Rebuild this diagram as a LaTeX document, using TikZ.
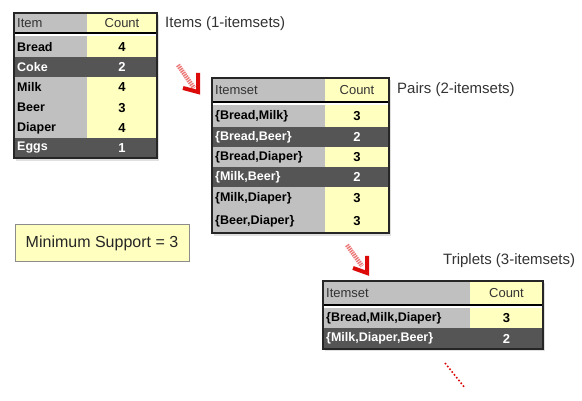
\documentclass[tikz,border=0pt]{standalone}
\usepackage{fontspec}
\setmainfont{Liberation Sans}
\definecolor{cgray}{HTML}{C0C0C0}
\definecolor{cyel}{HTML}{FFFFC0}
\definecolor{cdark}{HTML}{555555}
\definecolor{ctext}{HTML}{333333}
\definecolor{cred}{HTML}{DD0A0A}
\newcommand\fs[1]{\fontsize{#1}{#1}\selectfont}
% row: name, x1, xdiv, x2, ytop, ybot, text, count, dark
\newcommand\trow[9]{%
  \ifnum#9=1
    \fill[cdark] (#2,#5) rectangle (#4,#6);
    \node[rowtxt,text=white] (#1t) at (#2+2,{(#5+#6)/2}) {#7};
    \node[cnttxt,text=white] (#1c) at ({(#3+#4)/2},{(#5+#6)/2}) {#8};
  \else
    \fill[cgray] (#2,#5) rectangle (#3,#6);
    \fill[cyel] (#3,#5) rectangle (#4,#6);
    \node[rowtxt] (#1t) at (#2+2,{(#5+#6)/2}) {#7};
    \node[cnttxt] (#1c) at ({(#3+#4)/2},{(#5+#6)/2}) {#8};
  \fi}
% header: name, x1, xdiv, x2, ytop, ybot, text
\newcommand\thead[7]{%
  \fill[cgray] (#2,#5) rectangle (#3,#6);
  \fill[cyel] (#3,#5) rectangle (#4,#6);
  \node[headtxt,anchor=west] (#1t) at (#2+2,{(#5+#6)/2}) {#7};
  \node[headtxt] (#1c) at ({(#3+#4)/2},{(#5+#6)/2}) {Count};
  \fill[white] (#2,#6) rectangle (#4,#6+3.5);
  \draw[line width=1.1pt] (#2,#6) -- (#4,#6);
  \draw[line width=1.1pt] (#2,#6+3.5) -- (#4,#6+3.5);}
\begin{document}
\begin{tikzpicture}[x=1pt,y=-1pt,
  rowtxt/.style={anchor=west,inner sep=1pt,font=\fs{12.5}\bfseries,text=black},
  cnttxt/.style={inner sep=1pt,font=\fs{13}\bfseries,text=black},
  headtxt/.style={inner sep=1pt,font=\fs{13},text=ctext},
  border/.style={draw=black!85,line width=1.5pt},
  lbl/.style={anchor=west,inner sep=0pt,font=\fs{15},text=ctext},
  shaft/.style={cred!55,line width=4.5pt,dash pattern=on 1.4pt off 0.9pt},
  head/.style={cred,line width=4pt,line join=miter}]
\useasboundingbox[fill=white] (0,0) rectangle (582,401);

% ---- Table 1
\fill[black!12] (16,15) rectangle (159,161);
\thead{h1}{14}{87}{157}{13}{33}{Item}
\trow{a1}{14}{87}{157}{36.5}{56.9}{Bread}{4}{0}
\trow{a2}{14}{87}{157}{56.9}{77.2}{Coke}{2}{1}
\trow{a3}{14}{87}{157}{77.2}{97.5}{Milk}{4}{0}
\trow{a4}{14}{87}{157}{97.5}{117.8}{Beer}{3}{0}
\trow{a5}{14}{87}{157}{117.8}{138}{Diaper}{4}{0}
\trow{a6}{14}{87}{157}{138}{158}{Eggs}{1}{1}
\draw[border] (14,13) rectangle (157,158);
\node[lbl] (l1) at (165,24) {Items (1-itemsets)};

% ---- Table 2
\fill[black!12] (214,80) rectangle (391,236);
\thead{h2}{212}{325}{389}{78}{102}{Itemset}
\trow{b1}{212}{325}{389}{105.5}{126.8}{\{Bread,Milk\}}{3}{0}
\trow{b2}{212}{325}{389}{126.8}{147}{\{Bread,Beer\}}{2}{1}
\trow{b3}{212}{325}{389}{147}{167}{\{Bread,Diaper\}}{3}{0}
\trow{b4}{212}{325}{389}{167}{187.5}{\{Milk,Beer\}}{2}{1}
\trow{b5}{212}{325}{389}{187.5}{209.5}{\{Milk,Diaper\}}{3}{0}
\trow{b6}{212}{325}{389}{209.5}{233}{\{Beer,Diaper\}}{3}{0}
\draw[border] (212,78) rectangle (389,233);
\node[lbl] (l2) at (397,90) {Pairs (2-itemsets)};

% ---- Table 3
\fill[black!12] (325,283) rectangle (545,351);
\thead{h3}{323}{470}{543}{281}{305}{Itemset}
\trow{c1}{323}{470}{543}{308.5}{328.5}{\{Bread,Milk,Diaper\}}{3}{0}
\trow{c2}{323}{470}{543}{328.5}{349}{\{Milk,Diaper,Beer\}}{2}{1}
\draw[border] (323,281) rectangle (543,349);
\node[lbl] (l3) at (443,261) {Triplets (3-itemsets)};

% ---- Minimum support
\node[draw=black!45,line width=1pt,fill=cyel,minimum width=174pt,minimum height=37pt,
      font=\fs{16},text=black!85,inner sep=0pt] (ms) at (102,243.5) {Minimum Support = 3};

% ---- Arrows
\coordinate (p1s) at (178,65);
\coordinate (p1e) at (194,88);
\draw[shaft] (p1s) -- (p1e);
\draw[head] (183,88) -- (198,92) -- (198,73);
\coordinate (p2s) at (347,245);
\coordinate (p2e) at (362,266);
\draw[shaft] (p2s) -- (p2e);
\draw[head] (353,268) -- (367,273) -- (367,256);
\coordinate (p3s) at (445,363);
\coordinate (p3e) at (465,388);
\draw[cred,line width=1.6pt,dash pattern=on 1.6pt off 2pt] (p3s) -- (p3e);
\end{tikzpicture}
\end{document}
